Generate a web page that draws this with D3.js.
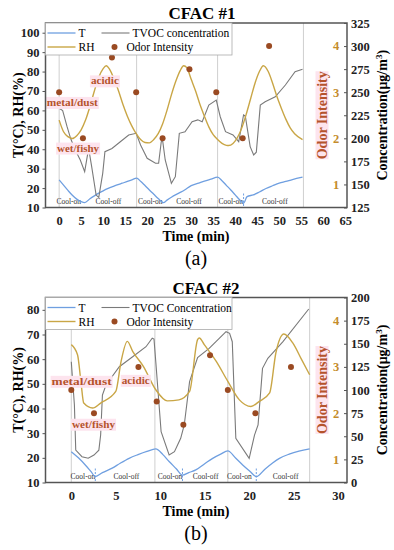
<!DOCTYPE html>
<html><head><meta charset="utf-8">
<script src="https://cdn.jsdelivr.net/npm/d3@7"></script>
<style>body{margin:0;background:#fff}svg{display:block}</style>
</head><body><svg id="c" width="394" height="550"></svg>
<script>
// ---------- Chart (a) CFAC #1 data ----------
const aT = [[0,24.2],[1,21.5],[2,18.8],[3,16.3],[4,14.3],[5,13],[5.8,12.5],[7,14.5],[8,16],[9,17.4],[10,18.6],[11,19.7],[12,20.6],[13,21.5],[14.3,22.5],[15.5,23.4],[16.5,24.2],[17.6,25.1],[18.5,23.5],[19.5,21.3],[20.5,19],[21.5,16.8],[22.5,14.6],[23.7,12.5],[24.5,13.8],[25.5,15.3],[27.2,17.4],[28.5,19],[30,21.3],[31.7,22.6],[33,23.6],[34.5,24.6],[36,25.6],[37,23.8],[38,21.4],[39,19],[40,16.5],[41,14],[41.9,12.2],[42.7,15.6],[44.1,16.5],[45.5,18],[47,19.8],[48.5,21.2],[50,22.5],[51.5,23.4],[53,24.4],[55.3,25.6]];
const aTVOC = [[0,232.5],[0.8,230],[1.8,212.6],[2.6,200],[3.5,189],[4.8,176.5],[5.8,163.8],[6.7,189],[7.4,169],[8.4,138.5],[9,136],[9.9,162],[10.4,185.5],[12,189],[13.9,196.3],[15.8,203.6],[17.5,205.4],[18.5,192.8],[20,178.3],[21.9,173],[22.6,173],[23.2,196.3],[23.5,198],[24.1,176.5],[25.5,151.2],[26.4,158.4],[27.3,205.4],[28.6,207],[30.2,218],[31.5,220],[32.5,218],[34,236],[35.7,241.5],[36.6,223.4],[37.8,207.2],[39.5,203.6],[40.8,196.3],[41.9,225.3],[42.3,224],[43.4,191],[44.2,182],[44.8,185],[45.7,236],[46.8,239.7],[49.1,245],[51.4,257.8],[53.6,272.2],[55.3,274.8]];
const aRH = [[0,55],[1,49],[2,46.5],[3,45.5],[4,47],[5,50],[6,55],[7,62],[8,70],[9,77],[10,81.5],[10.7,83],[11.5,81],[12.5,76],[13.5,70],[14.5,63],[15.5,57],[16.5,52],[17.5,48],[18.5,45],[19.5,43.5],[20.5,43.3],[21.5,45],[22.5,48],[23.5,53],[24.5,60],[25.5,68],[26.5,75],[27.5,80.5],[28.3,83],[29,82],[30,76],[31,70],[32,63],[33,57],[34,51.5],[35,47.5],[36,45],[37,43],[38,42],[38.5,41.9],[39.5,43],[40.5,46],[41.5,51],[42.5,58],[43.5,66],[44.5,74],[45.5,80],[46.4,83],[47.5,80],[48.5,74],[49.5,67],[50.5,61],[51.5,55.5],[52.5,51],[53.5,48],[55.3,45]];
const aOdor = [[0,3],[5.4,2],[12,3.75],[17.5,3],[23.5,2],[29.6,3.5],[35.7,3],[41.7,2],[47.7,4]];
const aPhases = [0,17.6,36,55.5];
const aCool = [[2.2,"Cool-on"],[11.2,"Cool-off"],[20.7,"Cool-on"],[29.5,"Cool-off"],[39,"Cool-on"],[49,"Cool-off"]];
const aNotes = [[3,62.3,"metal/dust",51],[4.3,38.8,"wet/fishy",42],[10.4,73.4,"acidic",28]];

// ---------- Chart (b) CFAC #2 data ----------
const bT = [[0,22.5],[0.8,20],[1.6,17],[2.2,14.5],[2.7,12.4],[3.5,14],[4.6,15.8],[5.5,17.8],[6.5,19.8],[7.5,21.3],[8.5,22.6],[9.5,23.6],[10.3,21.3],[11,18.5],[11.8,15.6],[12.5,13],[13.2,14],[14,15.1],[15,17.6],[15.9,19.8],[16.8,21.5],[17.6,22.8],[18.5,19.8],[19.3,17],[20.1,14.5],[20.8,12.4],[21.8,15.5],[22.6,17.8],[23.4,19.8],[24.5,21.5],[25.6,22.7],[26.8,23.6]];
const bTVOC = [[0,130.6],[0.35,83.8],[0.5,35],[1.2,27.9],[1.9,26.2],[2.55,29.7],[3.1,35],[3.3,51.3],[3.5,94.6],[3.9,105.4],[5.4,125.2],[6.9,136],[8.4,146.8],[9.1,155.9],[9.3,155],[9.5,130.6],[10.1,54.9],[11,29.7],[11.6,33.3],[12.3,47.8],[12.7,62.2],[13.3,109],[14.2,135],[15.5,145],[17.4,163],[17.8,161.3],[18.1,152.2],[18.5,47.8],[20,26.2],[20.6,51.3],[21,62.2],[21.5,123.4],[22.1,134.3],[23.8,152.2],[26.7,187.6]];
const bRH = [[0,65.9],[0.7,61.8],[1.1,50.3],[1.4,42.2],[2.4,40.2],[3.3,42.2],[5,46.9],[5.6,59.1],[6.3,67.2],[6.9,63.2],[8.1,57.1],[9.5,47.6],[10.8,43.1],[12.1,43.5],[13.3,46.9],[14.2,67.9],[14.4,68.6],[14.95,65.9],[16.3,59.1],[17.6,51],[18.9,43.5],[20.2,40.8],[21.1,42.8],[22.3,46.3],[23,62.5],[23.9,70.2],[24.9,66.6],[25.9,59.8],[26.8,53.7]];
const bOdor = [[0,2.5],[2.55,2],[7.55,3],[9.6,2.25],[12.6,1.75],[15.6,3.25],[17.6,2.5],[20.7,2],[24.7,3]];
const bPhases = [0,9.4,17.6,26.8];
const bCool = [[1.3,"Cool-on"],[6.2,"Cool-off"],[11.1,"Cool-on"],[15.1,"Cool-off"],[18.9,"Cool-on"],[24.1,"Cool-off"]];
const bNotes = [[1.16,49.6,"metal/dust",60],[2.5,32.2,"wet/fishy",43],[7.25,50,"acidic",28]];

const aLeftTicks = d3.range(10,101,10), aRightTicks = d3.range(125,326,25), aXTicks = d3.range(0,66,5);
const bLeftTicks = d3.range(10,81,10), bRightTicks = d3.range(0,201,25), bXTicks = d3.range(0,31,5);
const odorTicks = [1,2,3,4];

const FONT = "'Liberation Serif','Times New Roman',serif";
const svg = d3.select("#c");
const C = {T:"#6f9fe0", TVOC:"#7a7a7a", RH:"#c9a646", odor:"#9a4a22", note:"#b5532c", pink:"#fde4ee"};

function chart(o){
  const g = svg.append("g");
  const x = d3.scaleLinear().domain(o.xd).range([o.l,o.r]);
  const yl = d3.scaleLinear().domain(o.yl).range([o.b,o.t]);
  const yr = d3.scaleLinear().domain(o.yr).range([o.b,o.t]);
  const yo = d3.scaleLinear().domain([0.5,4.5]).range([o.b,o.t]);
  g.append("text").attr("x",o.tx).attr("y",o.t-4).attr("text-anchor","middle").attr("font-size",17).attr("font-weight","bold").text(o.title);
  g.selectAll(".ph").data(o.phases).enter().append("line").attr("x1",d=>x(d)).attr("x2",d=>x(d)).attr("y1",o.t).attr("y2",o.b).attr("stroke","#cfcfcf").attr("stroke-width",1);
  g.selectAll(".cl").data(o.cool).enter().append("text").attr("x",d=>x(d[0])).attr("y",o.b-4).attr("text-anchor","middle").attr("font-size",7.5).attr("fill","#333").text(d=>d[1]);
  const line = (sx,sy,curve)=>d3.line().x(d=>sx(d[0])).y(d=>sy(d[1])).curve(curve||d3.curveLinear);
  g.append("path").datum(o.T).attr("d",line(x,yl,d3.curveMonotoneX)).attr("fill","none").attr("stroke",C.T).attr("stroke-width",1.3);
  g.append("path").datum(o.TVOC).attr("d",line(x,yr)).attr("fill","none").attr("stroke",C.TVOC).attr("stroke-width",1.1);
  g.append("path").datum(o.RH).attr("d",line(x,yl,d3.curveMonotoneX)).attr("fill","none").attr("stroke",C.RH).attr("stroke-width",1.4);
  g.selectAll(".cm").data(o.coolEnd).enter().append("line").attr("x1",d=>x(d)).attr("x2",d=>x(d)).attr("y1",o.b-14).attr("y2",o.b).attr("stroke",C.T).attr("stroke-dasharray","2,1.5").attr("stroke-width",1);
  o.notes.forEach(n=>{
    const t = g.append("text").attr("x",x(n[0])).attr("y",yl(n[1])).attr("text-anchor","middle").attr("font-size",11).attr("font-weight","bold").attr("fill",C.note).attr("textLength",n[3]).attr("lengthAdjust","spacingAndGlyphs").style("font-family",FONT).text(n[2]);
    const cx = x(n[0]), cy = yl(n[1]);
    g.insert("rect",()=>t.node()).attr("x",cx-n[3]/2-1).attr("y",cy-9).attr("width",n[3]+2).attr("height",12).attr("fill",C.pink);
  });
  g.selectAll(".od").data(o.odor).enter().append("circle").attr("cx",d=>x(d[0])).attr("cy",d=>yo(d[1])).attr("r",3).attr("fill",C.odor);
  g.append("rect").attr("x",o.l).attr("y",o.t).attr("width",o.r-o.l).attr("height",o.b-o.t).attr("fill","none").attr("stroke","#555").attr("stroke-width",1.5);
  const ax = g.append("g").attr("transform",`translate(0,${o.b})`).call(d3.axisBottom(x).tickValues(o.xt).tickSize(0).tickPadding(9));
  const ayl = g.append("g").attr("transform",`translate(${o.l},0)`).call(d3.axisLeft(yl).tickValues(o.ylt).tickSize(3).tickPadding(3));
  const ayr = g.append("g").attr("transform",`translate(${o.r},0)`).call(d3.axisRight(yr).tickValues(o.yrt).tickSize(-3).tickPadding(4));
  [ax,ayl,ayr].forEach(a=>{a.select(".domain").remove();a.attr("font-family",null);a.selectAll("text").attr("font-size",12.5).attr("font-weight","bold").attr("fill","#222");a.selectAll("line").attr("stroke","#555");});
  g.selectAll(".ot").data(odorTicks).enter().append("text").attr("x",o.r-11).attr("y",d=>yo(d)).attr("dy","0.35em").attr("text-anchor","middle").attr("font-size",12.5).attr("font-weight","bold").attr("fill","#c48c2c").text(d=>d);
  const ot = g.append("text").attr("transform",`translate(${o.r-25},${(o.t+o.b)/2}) rotate(-90)`).attr("text-anchor","middle").attr("dy","0.35em").attr("font-size",14).attr("font-weight","bold").attr("fill",C.note).style("font-family",FONT).text("Odor Intensity");
  const obb = ot.node().getBBox();
  g.insert("rect",()=>ot.node()).attr("x",o.r-25-obb.height/2+1).attr("y",(o.t+o.b)/2-obb.width/2).attr("width",obb.height-2).attr("height",obb.width).attr("fill",C.pink);
  g.append("text").attr("transform",`translate(18,${(o.t+o.b)/2}) rotate(-90)`).attr("text-anchor","middle").attr("font-size",14).attr("font-weight","bold").attr("dy","0.35em").text("T(\u00B0C),  RH(%)");
  g.append("text").attr("transform",`translate(382,${(o.t+o.b)/2}) rotate(-90)`).attr("text-anchor","middle").attr("font-size",14).attr("font-weight","bold").attr("dy","0.35em").html("Concentration(\u03BCg/m<tspan dy='-5' font-size='9'>3</tspan><tspan dy='5'>)</tspan>");
  g.append("text").attr("x",196).attr("y",o.b+33).attr("text-anchor","middle").attr("font-size",14).attr("font-weight","bold").text("Time (min)");
  g.append("text").attr("x",196).attr("y",o.b+57).attr("text-anchor","middle").attr("font-size",20).text(o.sub);
  const lg = g.append("g");
  lg.append("rect").attr("x",o.l).attr("y",o.t).attr("width",232-o.l).attr("height",32).attr("fill","#fff").attr("stroke","#aaa").attr("stroke-width",0.8);
  const r1 = o.t+10, r2 = o.t+24;
  lg.append("line").attr("x1",o.l+2).attr("x2",o.l+30).attr("y1",r1).attr("y2",r1).attr("stroke",C.T).attr("stroke-width",1.3);
  lg.append("text").attr("x",o.l+33).attr("y",r1+4).attr("font-size",11.5).text("T");
  lg.append("line").attr("x1",o.l+56).attr("x2",o.l+84).attr("y1",r1).attr("y2",r1).attr("stroke",C.TVOC).attr("stroke-width",1.1);
  lg.append("text").attr("x",o.l+87).attr("y",r1+4).attr("font-size",11.5).text(o.tvocName);
  lg.append("line").attr("x1",o.l+2).attr("x2",o.l+30).attr("y1",r2).attr("y2",r2).attr("stroke",C.RH).attr("stroke-width",1.4);
  lg.append("text").attr("x",o.l+33).attr("y",r2+4).attr("font-size",11.5).text("RH");
  lg.append("circle").attr("cx",o.l+69).attr("cy",r2).attr("r",3).attr("fill",C.odor);
  lg.append("text").attr("x",o.l+81).attr("y",r2+4).attr("font-size",11.5).text("Odor Intensity");
  g.selectAll("text").style("font-family",FONT);
}

chart({id:"a",title:"CFAC #1",sub:"(a)",tx:202,l:45.5,r:347,t:23,b:207.5,xd:[-3.1,65.4],yl:[10,105],yr:[125,325],
  xt:aXTicks,ylt:aLeftTicks,yrt:aRightTicks,T:aT,TVOC:aTVOC,RH:aRH,odor:aOdor,phases:aPhases,cool:aCool,notes:aNotes,coolEnd:[41.9],tvocName:"TVOC concentration"});
chart({id:"b",title:"CFAC #2",sub:"(b)",tx:206,l:45.5,r:347,t:297.5,b:482.5,xd:[-2.9,31],yl:[10,85],yr:[0,200],
  xt:bXTicks,ylt:bLeftTicks,yrt:bRightTicks,T:bT,TVOC:bTVOC,RH:bRH,odor:bOdor,phases:bPhases,cool:bCool,notes:bNotes,coolEnd:[2.7,12.5,20.8],tvocName:"TVOC Concentration"});
</script></body></html>
